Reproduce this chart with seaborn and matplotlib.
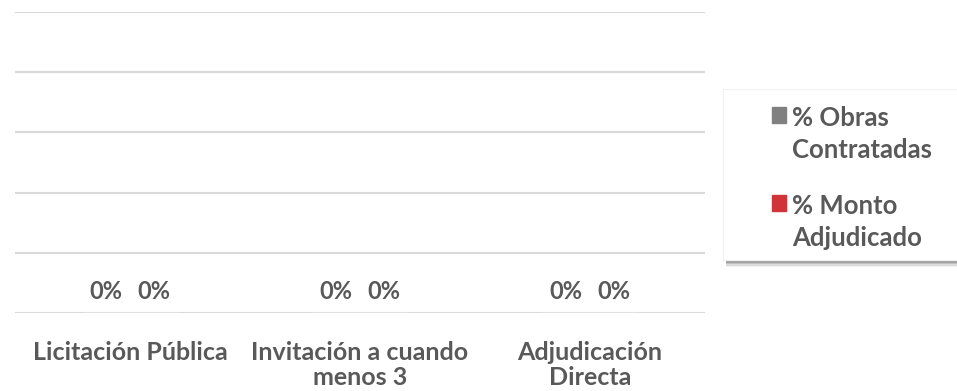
import matplotlib
matplotlib.use("Agg")
import matplotlib.pyplot as plt
from matplotlib.patches import Rectangle
from matplotlib.legend_handler import HandlerPatch
import seaborn as sns
import pandas as pd

# Contracting procedures and their share of works / awarded amount
categorias = ["Licitación Pública", "Invitación a cuando\nmenos 3", "Adjudicación\nDirecta"]
series = ["% Obras\nContratadas", "% Monto\nAdjudicado"]
obras_contratadas = [0.0, 0.0, 0.0]
monto_adjudicado = [0.0, 0.0, 0.0]
colores = ["#808080", "#D13438"]
yticks = [0.0, 0.2, 0.4, 0.6, 0.8, 1.0]

df = pd.DataFrame({
    "categoria": categorias * 2,
    "serie": [series[0]] * len(categorias) + [series[1]] * len(categorias),
    "valor": obras_contratadas + monto_adjudicado,
})

sns.set_theme(style="white")
plt.rcParams["font.family"] = ["Lato", "DejaVu Sans"]
plt.rcParams["font.weight"] = "bold"
texto = "#595959"

W, H = 957, 391
fig = plt.figure(figsize=(W / 100, H / 100), dpi=100)
ax = fig.add_axes([15 / W, 1 - 313 / H, 690 / W, 301 / H])

sns.barplot(data=df, x="categoria", y="valor", hue="serie",
            palette=colores, width=0.42, ax=ax, legend=False)

ax.set_ylim(0, 1)
ax.set_yticks(yticks)
ax.yaxis.grid(True, color="#d9d9d9", linewidth=1.5)
ax.set_axisbelow(True)
ax.set_yticklabels([])
ax.tick_params(axis="y", length=0)
ax.tick_params(axis="x", length=0, pad=20, labelsize=18, labelcolor=texto)
for lbl in ax.get_xticklabels():
    lbl.set_fontweight("bold")
    lbl.set_linespacing(1.12)
for s in ax.spines.values():
    s.set_visible(False)
ax.set_xlabel("")
ax.set_ylabel("")

for cont in ax.containers:
    ax.bar_label(cont, labels=[f"{v:.0%}" for v in cont.datavalues],
                 padding=7, fontsize=17, fontweight="bold", color=texto)

# legend panel with a soft drop shadow
x0, y0, x1, y1 = 723, 89, 962, 260
for i, a in enumerate([0.10, 0.18, 0.30, 0.45]):
    off = 7 - i * 1.5
    fig.patches.append(Rectangle(((x0 + 3) / W, 1 - (y1 + off) / H),
                                 (x1 - x0) / W, (y1 - y0) / H,
                                 transform=fig.transFigure, facecolor="#7f7f7f",
                                 alpha=a, edgecolor="none", zorder=1))
fig.patches.append(Rectangle((x0 / W, 1 - y1 / H), (x1 - x0) / W, (y1 - y0) / H,
                             transform=fig.transFigure, facecolor="white",
                             edgecolor="#f0f0f0", linewidth=0.8, zorder=2))


def square_top(legend, orig_handle, xdescent, ydescent, width, height, fontsize):
    # keep the swatch level with the first line of a two-line label
    return Rectangle((-xdescent, -ydescent + 0.78 * fontsize), width, height)


handles = [Rectangle((0, 0), 1, 1, color=c) for c in colores]
leg = fig.legend(handles, series, loc="upper left",
                 bbox_to_anchor=(762 / W, 1 - 96 / H), frameon=False,
                 fontsize=18.5, handlelength=0.55, handleheight=0.55,
                 handletextpad=0.22, labelspacing=1.25, borderaxespad=0,
                 handler_map={Rectangle: HandlerPatch(patch_func=square_top)})
for t in leg.get_texts():
    t.set_color(texto)
    t.set_fontweight("bold")
    t.set_linespacing(1.39)
leg.set_zorder(3)

fig.savefig("out.png", dpi=100)
